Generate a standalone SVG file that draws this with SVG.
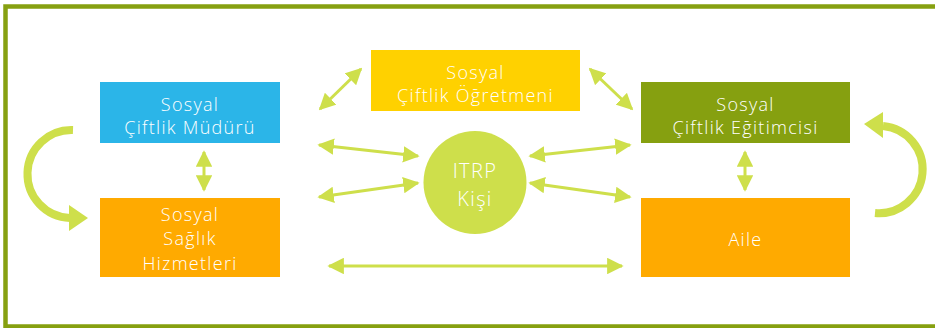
<svg xmlns="http://www.w3.org/2000/svg" width="935" height="328" viewBox="0 0 935 328">
<style>
.t{font-family:"Open Sans","Liberation Sans",sans-serif;font-size:18px;fill:#fff;text-anchor:middle;font-weight:300;letter-spacing:1.3px}
.big{font-size:20px;letter-spacing:1.4px}
.c{stroke:#CEDF4B;stroke-width:3;fill:none}
.arc{stroke:#CEDF4B;stroke-width:8;fill:none}
</style>
<defs>
<marker id="h" viewBox="0 0 10 10" refX="9" refY="5" markerWidth="5.5" markerHeight="5.5" orient="auto-start-reverse" markerUnits="strokeWidth">
<path d="M0,0 L10,5 L0,10 Z" fill="#CEDF4B"/>
</marker>
</defs>
<rect width="935" height="328" fill="#fff"/>
<path d="M940,6.5 H5.5 V326.5 H940" fill="none" stroke="#86A010" stroke-width="4.5"/>
<g id="connectors">
<line class="c" x1="320" y1="109" x2="361" y2="69" marker-start="url(#h)" marker-end="url(#h)"/>
<line class="c" x1="590" y1="69" x2="632" y2="109" marker-start="url(#h)" marker-end="url(#h)"/>
<line class="c" x1="319" y1="145" x2="418" y2="156" marker-start="url(#h)" marker-end="url(#h)"/>
<line class="c" x1="319" y1="197" x2="418" y2="183" marker-start="url(#h)" marker-end="url(#h)"/>
<line class="c" x1="530" y1="156" x2="630" y2="145" marker-start="url(#h)" marker-end="url(#h)"/>
<line class="c" x1="530" y1="183" x2="630" y2="197" marker-start="url(#h)" marker-end="url(#h)"/>
<line class="c" x1="329" y1="266" x2="622" y2="266" marker-start="url(#h)" marker-end="url(#h)"/>
<line class="c" x1="204" y1="152" x2="204" y2="190" marker-start="url(#h)" marker-end="url(#h)"/>
<line class="c" x1="745" y1="152" x2="745" y2="190" marker-start="url(#h)" marker-end="url(#h)"/>
<path class="arc" d="M73,130 A44,44 0 0 0 70,218"/>
<path d="M69,205 L88,218 L69,231 Z" fill="#CEDF4B"/>
<path class="arc" d="M875,213 A43,43 0 0 0 883,126"/>
<path d="M883,112 L864,124 L883,138 Z" fill="#CEDF4B"/>
</g>
<g id="mudur">
<rect x="100" y="82" width="180" height="61" fill="#2BB5E8"/>
<text class="t" x="190" y="111">Sosyal</text>
<text class="t" x="190" y="134">Çiftlik Müdürü</text>
</g>
<g id="ogretmen">
<rect x="371" y="50" width="209" height="61" fill="#FFD100"/>
<text class="t" x="475.5" y="79">Sosyal</text>
<text class="t" x="475.5" y="102">Çiftlik Öğretmeni</text>
</g>
<g id="egitimci">
<rect x="641" y="82" width="209" height="61" fill="#86A010"/>
<text class="t" x="745.5" y="111">Sosyal</text>
<text class="t" x="745.5" y="134">Çiftlik Eğitimcisi</text>
</g>
<g id="saglik">
<rect x="100" y="198" width="180" height="79" fill="#FFAA00"/>
<text class="t" x="190" y="221">Sosyal</text>
<text class="t" x="190" y="245">Sağlık</text>
<text class="t" x="190" y="270">Hizmetleri</text>
</g>
<g id="aile">
<rect x="641" y="198" width="209" height="79" fill="#FFAA00"/>
<text class="t" x="745.5" y="246">Aile</text>
</g>
<g id="itrp">
<circle cx="475" cy="182.5" r="51.5" fill="#CEDF4B"/>
<text class="t big" x="475" y="178">ITRP</text>
<text class="t big" x="475" y="206">Kişi</text>
</g>
</svg>
